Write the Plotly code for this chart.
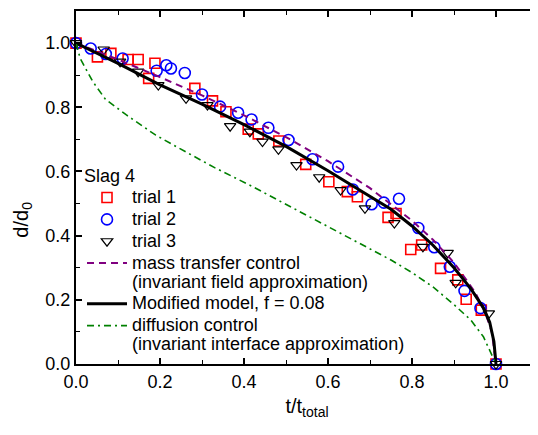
import plotly.graph_objects as go

# ---- data ----
t1_x = [0.0, 0.051, 0.083, 0.124, 0.148, 0.173, 0.188, 0.283, 0.325, 0.357, 0.410, 0.434, 0.483,
        0.547, 0.602, 0.646, 0.670, 0.743, 0.762, 0.797, 0.823, 0.868, 0.909, 0.929, 0.965, 1.0]
t1_y = [1.0, 0.957, 0.968, 0.949, 0.949, 0.890, 0.937, 0.859, 0.820, 0.786, 0.732, 0.717, 0.695,
        0.622, 0.568, 0.537, 0.521, 0.457, 0.469, 0.357, 0.371, 0.298, 0.262, 0.202, 0.168, 0.0]

t2_x = [0.0, 0.035, 0.071, 0.111, 0.192, 0.215, 0.226, 0.259, 0.300, 0.343, 0.386, 0.418, 0.458,
        0.506, 0.563, 0.624, 0.659, 0.704, 0.733, 0.769, 0.815, 0.853, 0.890, 0.925, 0.963, 1.0]
t2_y = [1.0, 0.983, 0.966, 0.952, 0.914, 0.931, 0.921, 0.907, 0.840, 0.802, 0.783, 0.762, 0.736,
        0.698, 0.638, 0.615, 0.544, 0.498, 0.503, 0.515, 0.424, 0.364, 0.303, 0.228, 0.174, 0.0]

t3_x = [0.0, 0.066, 0.105, 0.148, 0.196, 0.262, 0.313, 0.367, 0.414, 0.444, 0.482, 0.525, 0.579,
        0.630, 0.688, 0.758, 0.826, 0.885, 0.904, 0.983, 1.0]
t3_y = [1.0, 0.980, 0.942, 0.911, 0.869, 0.828, 0.807, 0.741, 0.724, 0.693, 0.669, 0.620, 0.582,
        0.542, 0.485, 0.439, 0.365, 0.346, 0.253, 0.158, 0.0]

mt_x = [0.0, 0.05, 0.1, 0.2, 0.3, 0.4, 0.5, 0.6, 0.7, 0.8, 0.85, 0.9, 0.95, 0.975, 0.99, 1.0]
mt_y = [1.0, 0.975, 0.949, 0.894, 0.837, 0.775, 0.707, 0.632, 0.548, 0.447, 0.387, 0.316, 0.224, 0.158, 0.100, 0.0]

mod_x = [0.0, 0.1, 0.2, 0.3, 0.4, 0.5, 0.6, 0.7, 0.75, 0.8, 0.85, 0.9, 0.94, 0.97, 0.985, 0.995, 1.0]
mod_y = [1.0, 0.937, 0.870, 0.810, 0.746, 0.678, 0.602, 0.522, 0.482, 0.430, 0.370, 0.300, 0.235, 0.175, 0.130, 0.070, 0.0]

dc_x = [0.0, 0.01, 0.04, 0.07, 0.12, 0.19, 0.26, 0.33, 0.42, 0.5, 0.6, 0.7, 0.75, 0.8, 0.85, 0.9, 0.94, 0.97, 1.0]
dc_y = [1.0, 0.952, 0.880, 0.825, 0.776, 0.713, 0.662, 0.612, 0.553, 0.497, 0.427, 0.358, 0.324, 0.285, 0.240, 0.185, 0.137, 0.085, 0.0]

legend_title = "Slag 4"
names = ["trial 1", "trial 2", "trial 3",
         ["mass transfer control", "(invariant field approximation)"],
         ["Modified model, f = 0.08"],
         ["diffusion control", "(invariant interface approximation)"]]

FONT = "Arial, Liberation Sans, sans-serif"


def lbl(parts):
    if isinstance(parts, str):
        parts = [parts]
    return "<br>".join('<span style="font-size:18px">%s</span>' % p for p in parts)


fig = go.Figure()
fig.add_trace(go.Scatter(x=t1_x, y=t1_y, mode="markers", name=lbl(names[0]), cliponaxis=False,
                         marker=dict(symbol="square-open", size=10, color="#ff0000", line=dict(width=1.6))))
fig.add_trace(go.Scatter(x=t2_x, y=t2_y, mode="markers", name=lbl(names[1]), cliponaxis=False,
                         marker=dict(symbol="circle-open", size=11, color="#0000ff", line=dict(width=1.6))))
fig.add_trace(go.Scatter(x=t3_x, y=t3_y, mode="markers", name=lbl(names[2]), cliponaxis=False,
                         marker=dict(symbol="triangle-down-open", size=10, color="#000000", line=dict(width=1.2))))
fig.add_trace(go.Scatter(x=mt_x, y=mt_y, mode="lines", name=lbl(names[3]), cliponaxis=False,
                         line=dict(color="#800080", width=2, dash="7px,5px")))
fig.add_trace(go.Scatter(x=mod_x, y=mod_y, mode="lines", name=lbl(names[4]), cliponaxis=False,
                         line=dict(color="#000000", width=3)))
fig.add_trace(go.Scatter(x=dc_x, y=dc_y, mode="lines", name=lbl(names[5]), cliponaxis=False,
                         line=dict(color="#008000", width=1.6, dash="7px,4px,2px,4px")))

axis_common = dict(
    range=[0, 1.1], dtick=0.2, tick0=0, tickformat=".1f", automargin=False,
    ticks="inside", ticklen=6, tickwidth=1.5, tickcolor="black",
    showline=True, linecolor="black", linewidth=2, mirror="allticks",
    showgrid=False, zeroline=False,
    tickfont=dict(family=FONT, size=18, color="black"),
    minor=dict(dtick=0.1, ticks="inside", ticklen=4, tickwidth=1.2, tickcolor="black", showgrid=False),
)

# the page body adds an 8px offset, so the figure is 530x427 to fit the 538x435 window
fig.update_layout(
    width=530, height=427,
    margin=dict(l=68, r=0, t=3, b=71),
    paper_bgcolor="white", plot_bgcolor="white",
    font=dict(family=FONT, color="black"),
    xaxis=dict(axis_common, title=dict(text="t/t<sub>total</sub>", font=dict(family=FONT, size=20), standoff=8)),
    yaxis=dict(axis_common),
    showlegend=True,
    legend=dict(x=0.013, y=0.583, xanchor="left", yanchor="top",
                bgcolor="rgba(0,0,0,0)", borderwidth=0,
                font=dict(family=FONT, size=14.5, color="black"),
                title=dict(text=legend_title, font=dict(family=FONT, size=18)),
                itemwidth=40, valign="top", tracegroupgap=0),
    annotations=[dict(text="d/d<sub>0</sub>", textangle=-90, xref="paper", yref="paper",
                      x=-0.116, y=0.41, xanchor="center", yanchor="middle", showarrow=False,
                      font=dict(family=FONT, size=20, color="black"))],
)

fig.write_html("out.html")
